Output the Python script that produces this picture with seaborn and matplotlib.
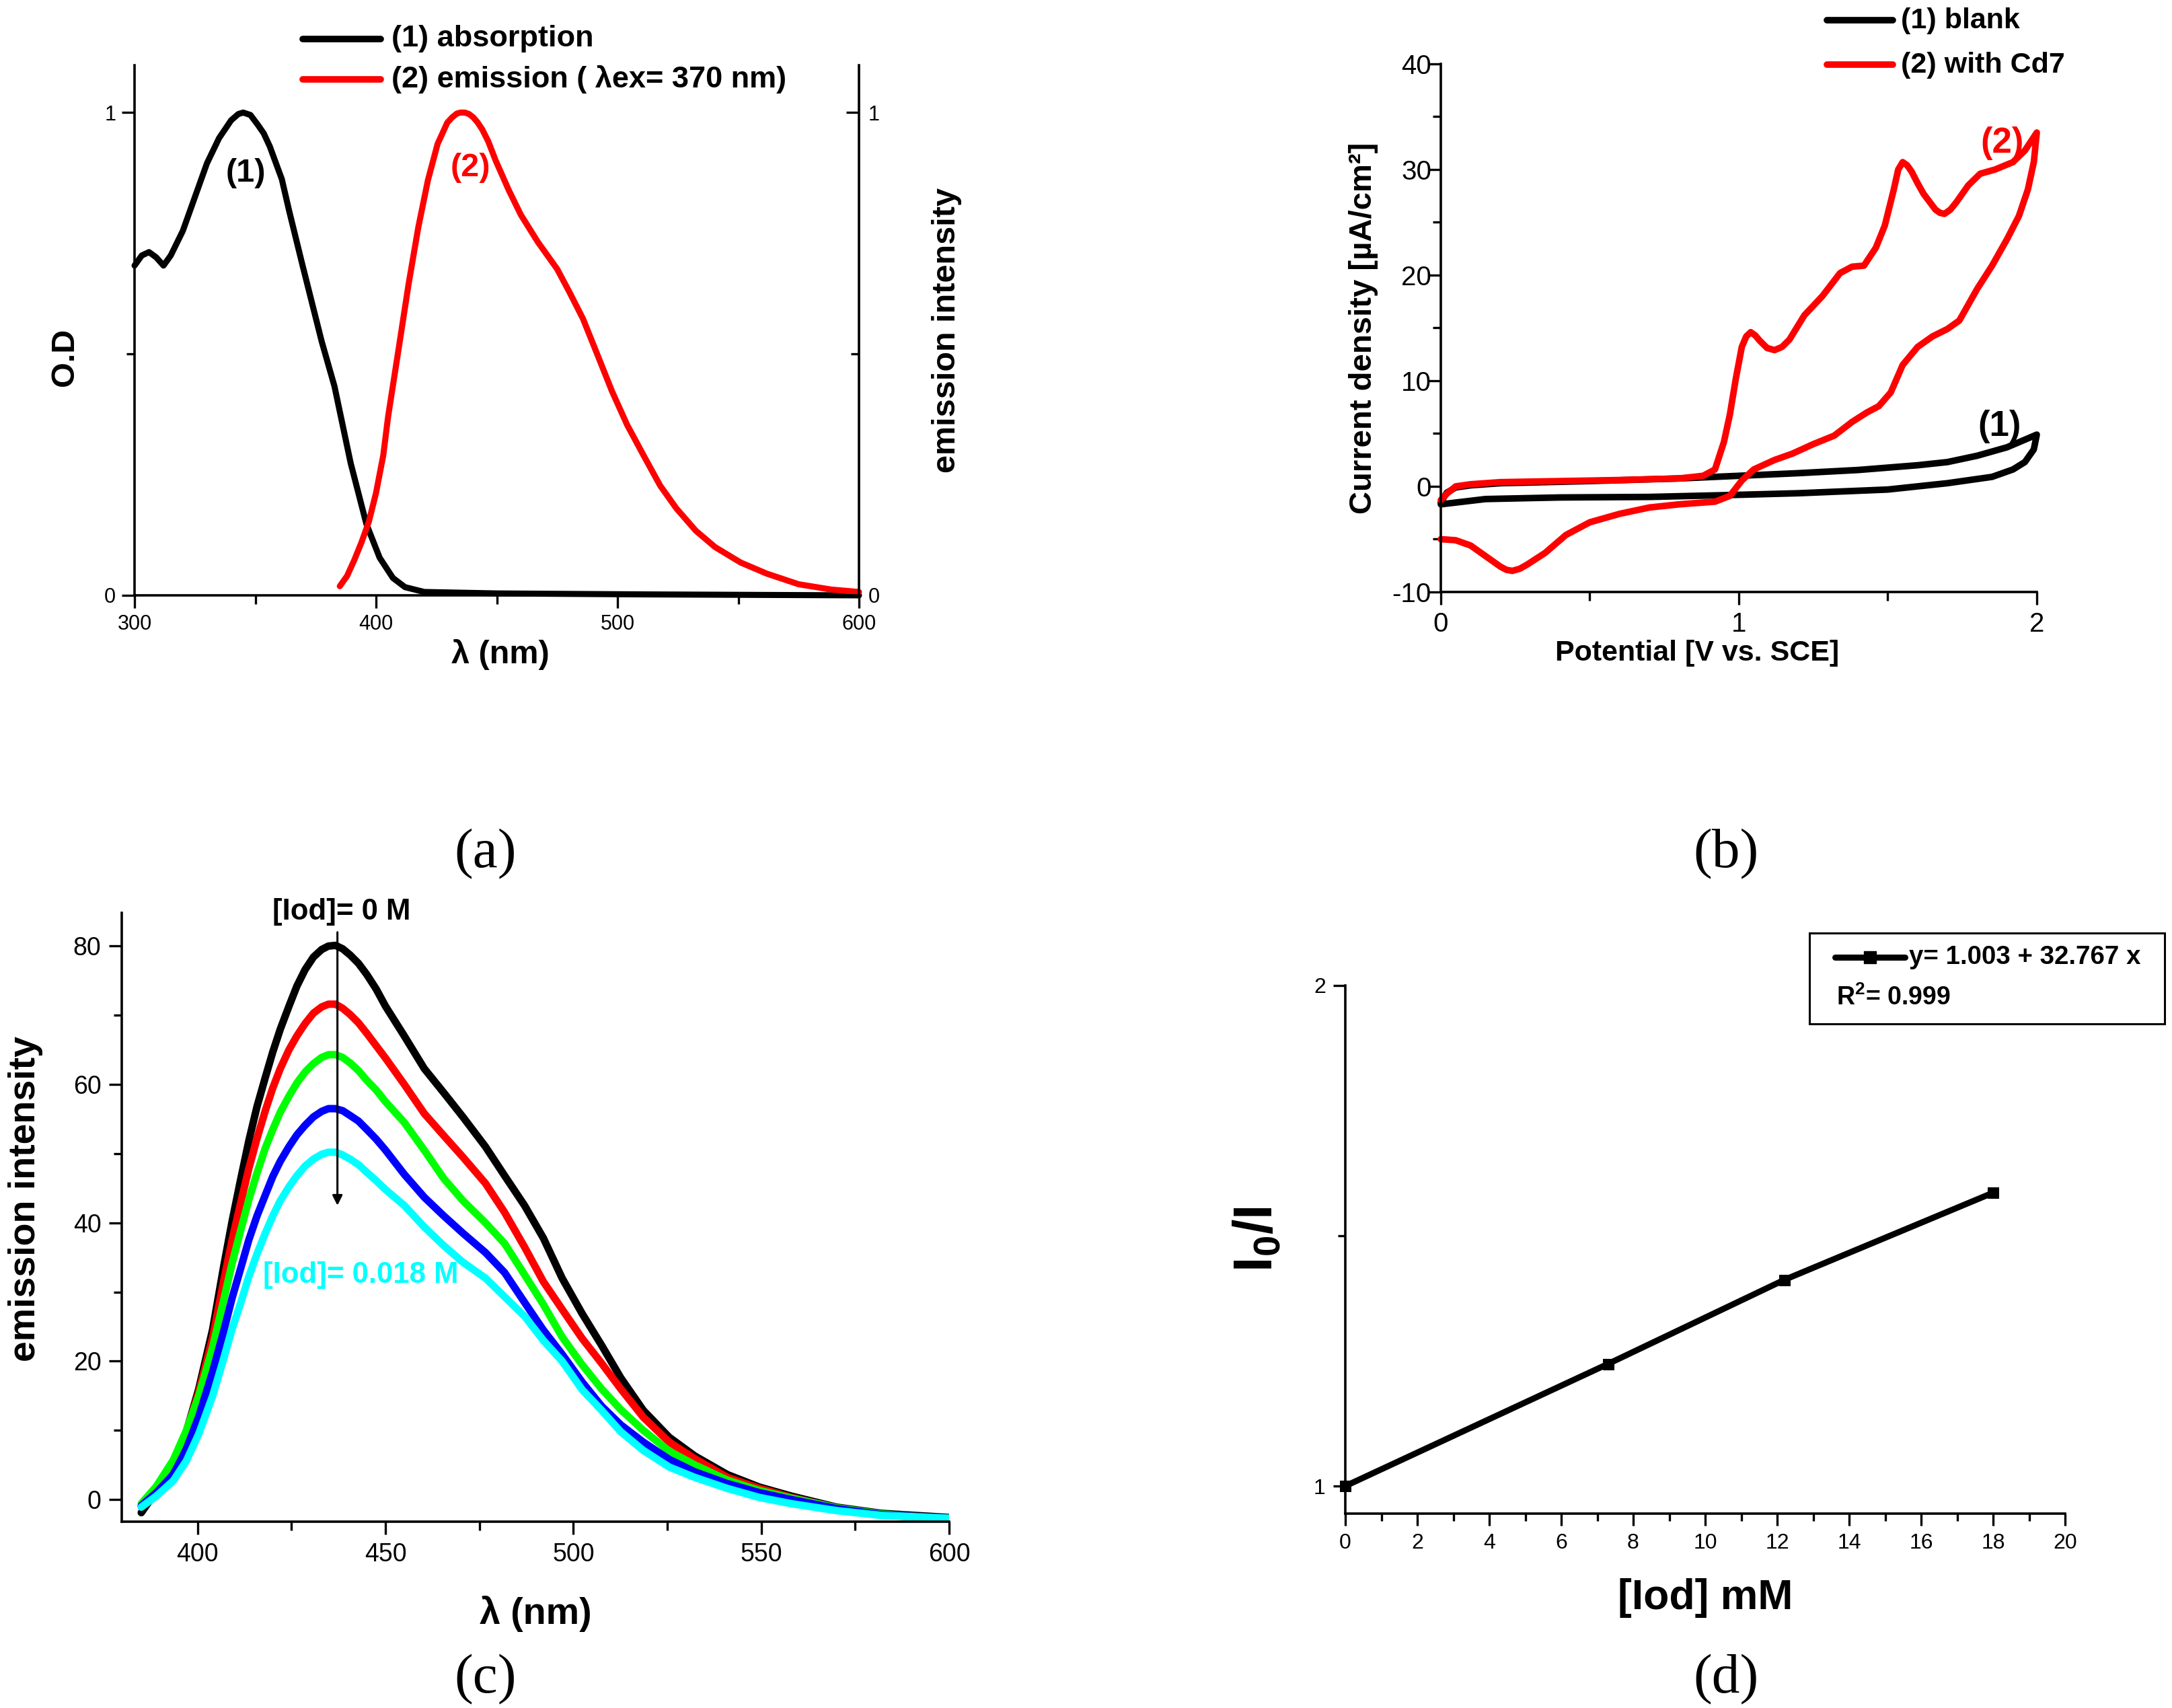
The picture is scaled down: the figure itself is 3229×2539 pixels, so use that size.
import matplotlib
matplotlib.use("Agg")
import matplotlib.pyplot as plt
from matplotlib.lines import Line2D
from matplotlib.patches import Rectangle
import seaborn as sns

sns.set_theme(style="ticks")
plt.rcParams["font.family"] = ["Liberation Sans", "DejaVu Sans"]
plt.rcParams["mathtext.fontset"] = "custom"
plt.rcParams["mathtext.rm"] = "Liberation Sans"
plt.rcParams["mathtext.bf"] = "Liberation Sans:bold"
plt.rcParams["mathtext.default"] = "regular"
plt.rcParams["axes.unicode_minus"] = False
plt.rcParams["lines.solid_joinstyle"] = "round"
plt.rcParams["text.color"] = "black"
plt.rcParams["axes.labelcolor"] = "black"
plt.rcParams["xtick.labelcolor"] = "black"
plt.rcParams["ytick.labelcolor"] = "black"
plt.rcParams["xtick.color"] = "black"
plt.rcParams["ytick.color"] = "black"

# ---------- panel a ----------
abs_wl = [300, 303, 306, 309, 312, 315, 320, 325, 330, 335, 340, 343, 345, 348, 351, 353.5, 356, 361, 364, 369.5,
          377.5, 382.8, 389.5, 396, 401.5, 407, 412, 420, 450, 510, 600]
abs_od = [0.683, 0.704, 0.711, 0.70, 0.683, 0.704, 0.755, 0.825, 0.895, 0.947, 0.984, 0.997, 1.0, 0.995, 0.975,
          0.957, 0.93, 0.862, 0.797, 0.685, 0.526, 0.433, 0.274, 0.148, 0.078, 0.036, 0.017, 0.007, 0.004, 0.002, 0.0]
em_wl = [385, 388, 391, 394, 397, 400, 403, 405, 409.5, 413.5, 417.5, 421.5, 425.5, 429.5, 431.5, 433.5, 435, 436.8,
         438.5, 440.3, 442, 444, 446.5, 449.6, 452, 455, 460, 467, 475, 480, 485.7, 491, 497.7, 504, 511, 517.7,
         524.4, 532.4, 540.4, 551, 561.8, 575, 588.5, 600]
em_val = [0.019, 0.04, 0.073, 0.11, 0.152, 0.212, 0.29, 0.37, 0.515, 0.645, 0.762, 0.86, 0.935, 0.979, 0.99,
          0.998, 1.0, 1.0, 0.997, 0.99, 0.98, 0.965, 0.94, 0.90, 0.873, 0.839, 0.788, 0.732, 0.676, 0.629, 0.573,
          0.507, 0.423, 0.353, 0.288, 0.227, 0.18, 0.134, 0.10, 0.068, 0.045, 0.023, 0.012, 0.007]

# ---------- panel b ----------
red_v = [0, .02, .05, .1, .2, .4, .6, .8, .88, .92, .95, .97, .99, 1.01, 1.025, 1.04, 1.055, 1.07, 1.095, 1.12, 1.145,
         1.17, 1.22, 1.28, 1.34, 1.38, 1.42, 1.46, 1.49, 1.52, 1.535, 1.55, 1.565, 1.58, 1.6, 1.62, 1.66, 1.675, 1.69,
         1.71, 1.73, 1.77, 1.81, 1.86, 1.92, 1.96, 2.0,
         1.99, 1.97, 1.94, 1.90, 1.85, 1.80, 1.74, 1.70, 1.65, 1.60, 1.55, 1.51, 1.47, 1.43, 1.38, 1.32, 1.25,
         1.18, 1.12, 1.05, 1.01, .97, .92, .8, .7, .6, .5, .42, .35, .29, .265, .24, .22, .2, .15, .1, .05, 0]
red_j = [-1.3, -.7, 0, .2, .4, .5, .6, .75, 1.0, 1.6, 4.2, 6.8, 10.2, 13.2, 14.2, 14.6, 14.3, 13.8, 13.1, 12.9, 13.2,
         13.9, 16.2, 18, 20.2, 20.8, 20.9, 22.6, 24.7, 28.1, 30, 30.7, 30.4, 29.8, 28.7, 27.7, 26.2, 25.9, 25.8,
         26.2, 26.9, 28.5, 29.6, 30, 30.7, 31.8, 33.5,
         30.7, 28.1, 25.6, 23.4, 20.9, 18.7, 15.7, 14.9, 14.2, 13.2, 11.5, 8.9, 7.6, 7, 6.1, 4.8, 4,
         3.1, 2.5, 1.6, .55, -.9, -1.45, -1.7, -2, -2.6, -3.4, -4.6, -6.3, -7.4, -7.8, -8, -7.9, -7.6, -6.6, -5.6, -5.1, -5]
blank_v = [0, .02, .05, .1, .2, .5, .8, 1.0, 1.2, 1.4, 1.6, 1.7, 1.8, 1.9, 2.0,
           1.99, 1.96, 1.92, 1.85, 1.7, 1.5, 1.2, 1.0, .7, .4, .15, 0]
blank_j = [-1.5, -.6, -.1, .1, .3, .5, .75, 1.0, 1.25, 1.55, 2.0, 2.3, 2.9, 3.7, 4.9,
           3.5, 2.3, 1.6, .9, .3, -.3, -.65, -.8, -1, -1.05, -1.2, -1.7]

# ---------- panel c ----------
c_wl = [385, 389, 393.5, 397, 400.3, 404, 407, 409.2, 411.5, 413.6, 415.8, 418, 420, 422, 424.3, 426.4, 428.6, 430.8,
        433, 434.8, 436.7, 438.6, 440.6, 442.8, 445, 447.5, 450,
        455, 460.3, 465.5, 470.6, 476.6, 481.7, 487, 492, 497, 502.3, 507.5, 512.6, 518.6, 525.5, 532.3,
        541, 549.5, 558, 570, 582, 600]
c_black = [-1.9, 1.2, 5.1, 9.8, 16, 24.6, 33.9, 40.3, 46.4, 51.8, 56.8, 61, 64.7, 68, 71.3, 74.2, 76.6, 78.4,
           79.5, 80, 80.1, 79.6, 78.7, 77.5, 75.9, 73.8, 71.3,
           67, 62.3, 58.8, 55.3, 51, 46.8, 42.5, 37.8, 32, 26.9, 22.3, 17.6, 12.9, 9, 6.3,
           3.6, 1.8, .5, -1.1, -2, -2.6]
c_red = [-1.0, 1.6, 5.4, 9.8, 15.5, 23.4, 31.8, 37.6, 43, 47.8, 52.2, 56.2, 59.5, 62.3, 65, 67, 68.8, 70.3,
         71.2, 71.6, 71.6, 71, 70.1, 68.9, 67.4, 65.6, 63.8,
         60, 55.8, 52.6, 49.5, 45.7, 41.5, 36.5, 31.5, 27.5, 23.3, 19.7, 16, 11.9, 8.3, 5.9,
         3.2, 1.6, .3, -1.2, -2.2, -2.9]
c_green = [-.6, 1.9, 5.7, 10, 15, 22, 29, 34.2, 39, 43.3, 47.2, 50.8, 53.5, 56, 58.3, 60.2, 61.8, 63,
           63.9, 64.3, 64.3, 63.9, 63.1, 62, 60.6, 59.2, 57.5,
           54.5, 50.5, 46.4, 43.2, 40, 37, 32.5, 28.2, 23.5, 19.5, 16, 13, 10, 7, 5,
           2.8, 1.3, .2, -1.2, -2.1, -2.8]
c_blue = [-.9, 1, 3.6, 7.3, 12, 18.5, 24.5, 29.2, 33.5, 37.5, 41, 44, 46.7, 48.9, 51, 52.7, 54.1, 55.3,
          56.1, 56.5, 56.5, 56.2, 55.5, 54.7, 53.5, 52.1, 50.5,
          47, 43.7, 41, 38.5, 35.7, 32.8, 28.5, 24.5, 21, 17, 13.5, 10.8, 8.3, 5.8, 4,
          2.3, 1, 0, -1.3, -2.2, -2.7]
c_cyan = [-1.1, .5, 2.7, 5.6, 9.5, 15, 20.5, 24.7, 28.5, 32.2, 35.5, 38.5, 41, 43.2, 45.2, 46.8, 48.2, 49.2,
          49.9, 50.2, 50.2, 49.8, 49.2, 48.4, 47.3, 46.1, 44.8,
          42.5, 39.4, 36.7, 34.3, 32, 29.3, 26.5, 23, 20, 15.9, 12.9, 9.8, 7.1, 4.7, 3.2,
          1.6, .3, -.6, -1.6, -2.3, -2.7]
c_series = [("black", c_black), ("#ff0000", c_red), ("#00ff00", c_green), ("#0000ff", c_blue), ("#00ffff", c_cyan)]

# ---------- panel d ----------
iod_mM = [0, 7.3, 12.2, 18]
i0_over_i = [1.0, 1.244, 1.412, 1.586]

W, H = 3230, 2539
fig = plt.figure(figsize=(W / 100, H / 100), dpi=100, facecolor="white")


def make_axes(left, right, bottom, top):
    ax = fig.add_axes([left / W, 1 - bottom / H, (right - left) / W, (bottom - top) / H])
    ax.set_facecolor("none")
    for s in ("top", "right"):
        ax.spines[s].set_visible(False)
    for s in ("left", "bottom"):
        ax.spines[s].set_linewidth(2.6)
        ax.spines[s].set_color("black")
    return ax


def style_ticks(ax, size, length=14, minor=9, pad=6):
    ax.tick_params(which="major", length=length, width=2.4, labelsize=size, pad=pad, color="black")
    ax.tick_params(which="minor", length=minor, width=2.4, color="black")


def ftext(x, y, s, **kw):
    fig.text(x / W, 1 - y / H, s, **kw)


def fline(x0, x1, y, color, lw, **kw):
    fig.add_artist(Line2D([x0 / W, x1 / W], [1 - y / H, 1 - y / H], color=color, lw=lw,
                          solid_capstyle="round", **kw))


LAB = dict(ha="center", va="center", fontfamily="Liberation Serif", fontsize=60, color="black")

# ---- a ----
ax = make_axes(200, 1277, 885, 97)
sns.lineplot(x=abs_wl, y=abs_od, ax=ax, color="black", lw=6.5, estimator=None, sort=False, clip_on=False)
sns.lineplot(x=em_wl, y=em_val, ax=ax, color="#ff0000", lw=6.5, estimator=None, sort=False, clip_on=False)
ax.set_xlim(300, 600)
ax.set_ylim(0, 1.098)
ax.set_xticks([300, 400, 500, 600])
ax.set_xticks([350, 450, 550], minor=True)
ax.set_yticks([0, 1])
ax.set_yticks([0.5], minor=True)
style_ticks(ax, 22)
ax.set_xlabel("λ (nm)", fontsize=35, fontweight="bold")
ax.set_ylabel("O.D", fontsize=35, fontweight="bold")
ax.xaxis.set_label_coords(0.505, -0.082)
ax.yaxis.set_label_coords(-0.075, 0.45)
ax2 = ax.twinx()
ax2.set_ylim(0, 1.098)
ax2.set_yticks([0, 1])
ax2.set_yticks([0.5], minor=True)
for s in ("top", "left", "bottom"):
    ax2.spines[s].set_visible(False)
ax2.spines["right"].set_linewidth(2.6)
ax2.spines["right"].set_color("black")
ax2.tick_params(which="major", direction="in", length=14, width=2.4, labelsize=22, pad=10, color="black")
ax2.tick_params(which="minor", direction="in", length=9, width=2.4, color="black")
ax2.set_ylabel("emission intensity", fontsize=35, fontweight="bold")
ax2.yaxis.set_label_coords(1.1, 0.5)
ax.text(346, 0.875, "(1)", ha="center", va="center", fontsize=35, fontweight="bold", color="black")
ax.text(439, 0.885, "(2)", ha="center", va="center", fontsize=35, fontweight="bold", color="#ff0000")
fline(450, 566, 58, "black", 7)
fline(450, 566, 118, "#ff0000", 7)
ftext(582, 58, "(1) absorption", fontsize=32.5, fontweight="bold", va="center")
ftext(582, 118, "(2) emission ( λex= 370 nm)", fontsize=32.5, fontweight="bold", va="center")
ftext(722, 1270, "(a)", **LAB)

# ---- b ----
ax = make_axes(2142, 3028, 880, 95)
sns.lineplot(x=blank_v, y=blank_j, ax=ax, color="black", lw=7, estimator=None, sort=False, clip_on=False)
sns.lineplot(x=red_v, y=red_j, ax=ax, color="#ff0000", lw=7, estimator=None, sort=False, clip_on=False)
ax.set_xlim(0, 2)
ax.set_ylim(-10, 40)
ax.set_xticks([0, 1, 2])
ax.set_xticks([0.5, 1.5], minor=True)
ax.set_yticks([-10, 0, 10, 20, 30, 40])
ax.set_yticks([-5, 5, 15, 25, 35], minor=True)
style_ticks(ax, 29, length=14, minor=9, pad=-4)
ax.tick_params(axis="x", pad=7)
ax.set_xlabel("Potential [V vs. SCE]", fontsize=31, fontweight="bold")
ax.xaxis.set_label_coords(0.43, -0.09)
ax.set_ylabel("Current density [µA/cm²]", fontsize=34, fontweight="bold")
ax.yaxis.set_label_coords(-0.105, 0.5)
ax.text(1.875, 5.7, "(1)", ha="center", va="center", fontsize=38, fontweight="bold", color="black")
ax.text(1.885, 32.5, "(2)", ha="center", va="center", fontsize=38, fontweight="bold", color="#ff0000")
fline(2716, 2814, 30, "black", 7)
fline(2716, 2814, 96, "#ff0000", 7)
ftext(2826, 31, "(1) blank", fontsize=31, fontweight="bold", va="center")
ftext(2826, 97, "(2) with Cd7", fontsize=31, fontweight="bold", va="center")
ftext(2566, 1270, "(b)", **LAB)

# ---- c ----
ax = make_axes(181, 1411, 2262, 1357)
for col, vals in c_series:
    sns.lineplot(x=c_wl, y=vals, ax=ax, color=col, lw=8, estimator=None, sort=False)
ax.set_xlim(379.8, 600)
ax.set_ylim(-3.2, 84.8)
ax.set_xticks([400, 450, 500, 550, 600])
ax.set_xticks([425, 475, 525, 575], minor=True)
ax.set_yticks([0, 20, 40, 60, 80])
ax.set_yticks([10, 30, 50, 70], minor=True)
style_ticks(ax, 27, length=14, minor=9, pad=8)
ax.set_xlabel("λ (nm)", fontsize=40, fontweight="bold")
ax.xaxis.set_label_coords(0.5, -0.122)
ax.set_ylabel("emission intensity", fontsize=40, fontweight="bold")
ax.yaxis.set_label_coords(-0.095, 0.53)
ax.annotate("", xy=(437.2, 42.5), xytext=(437.2, 82),
            arrowprops=dict(arrowstyle="-|>", color="black", lw=2.2, mutation_scale=22, shrinkA=0, shrinkB=0))
ftext(508, 1355, "[Iod]= 0 M", fontsize=31.5, fontweight="bold", va="center", ha="center")
ftext(536, 1895, "[Iod]= 0.018 M", fontsize=31.5, fontweight="bold", va="center", ha="center", color="#00ffff")
ftext(722, 2497, "(c)", **LAB)

# ---- d ----
ax = make_axes(2000, 3070, 2250, 1465)
sns.lineplot(x=iod_mM, y=i0_over_i, ax=ax, color="black", lw=6.5, marker="s", markersize=11,
             markeredgecolor="black", estimator=None, clip_on=False)
ax.set_xlim(0, 20)
ax.set_ylim(0.945, 2)
ax.set_xticks(range(0, 21, 2))
ax.set_xticks(range(1, 20, 2), minor=True)
ax.set_yticks([1, 2])
ax.set_yticks([1.5], minor=True)
style_ticks(ax, 23, length=13, minor=8, pad=8)
ax.set_xlabel("[Iod] mM", fontsize=45, fontweight="bold")
ax.xaxis.set_label_coords(0.5, -0.122)
ax.set_ylabel(r"$\mathbf{I_0/I}$", fontsize=58)
ax.yaxis.set_label_coords(-0.085, 0.52)
fig.add_artist(Rectangle((2690 / W, 1 - 1522 / H), (3218 - 2690) / W, (1522 - 1387) / H,
                         transform=fig.transFigure, fill=False, edgecolor="black", lw=2.2))
fline(2728, 2832, 1423, "black", 6.5)
fig.add_artist(Line2D([2780 / W], [1 - 1423 / H], marker="s", markersize=13, color="black"))
ftext(2838, 1423, "y= 1.003 + 32.767 x", fontsize=27.7, fontweight="bold", va="center")
ftext(2730, 1483, "R$^{2}$= 0.999", fontsize=27, va="center", fontweight="bold")
ftext(2566, 2497, "(d)", **LAB)

fig.savefig("out.png", dpi=100, facecolor="white")
